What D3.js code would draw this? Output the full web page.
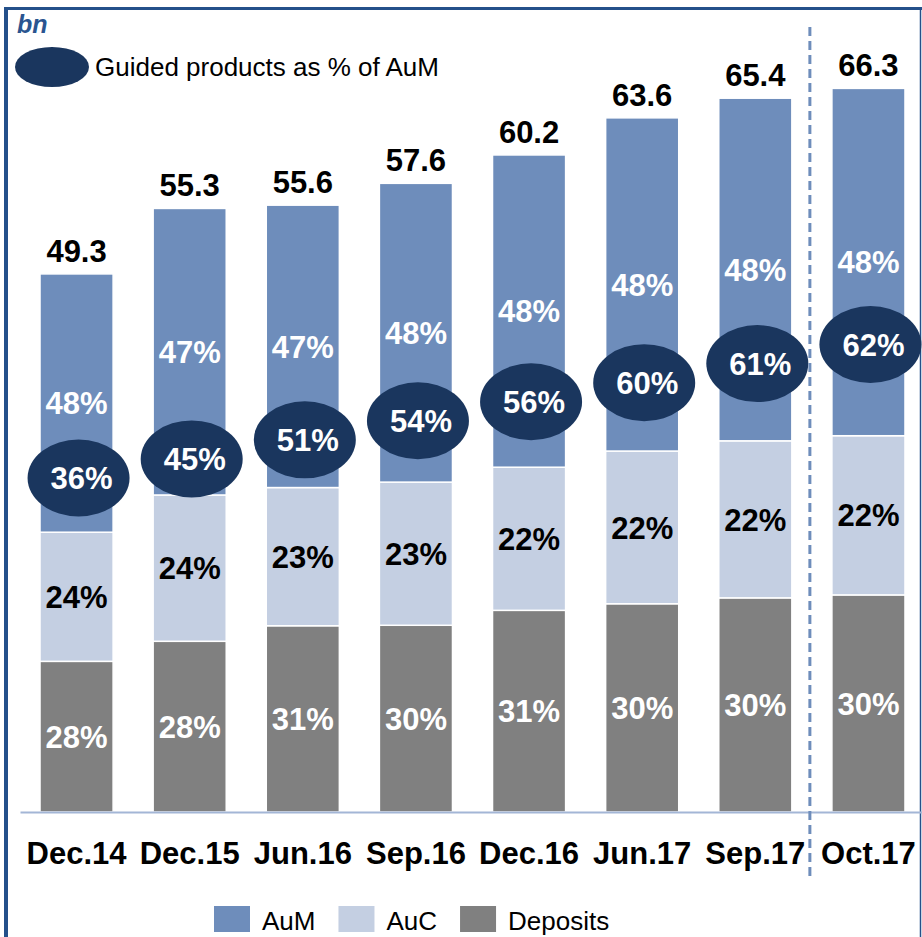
<!DOCTYPE html>
<html>
<head>
<meta charset="utf-8">
<script src="https://cdn.jsdelivr.net/npm/d3@7"></script>
<style>
  body { margin: 0; background: #fff; }
  svg { display: block; font-family: "Liberation Sans", Arial, sans-serif; }
</style>
</head>
<body>
<div id="chart"></div>
<script>
// data
const periods = ["Dec.14", "Dec.15", "Jun.16", "Sep.16", "Dec.16", "Jun.17", "Sep.17", "Oct.17"];
const totals = [49.3, 55.3, 55.6, 57.6, 60.2, 63.6, 65.4, 66.3];
const depositsPct = [28, 28, 31, 30, 31, 30, 30, 30];
const aucPct = [24, 24, 23, 23, 22, 22, 22, 22];
const aumPct = [48, 47, 47, 48, 48, 48, 48, 48];
const guidedPct = [36, 45, 51, 54, 56, 60, 61, 62];
const seriesKeys = ["Deposits", "AuC", "AuM"];

const width = 922, height = 937;
const colors = { AuM: "#6e8dbb", AuC: "#c4cfe2", Deposits: "#808080" };
const labelColors = { AuM: "#fff", AuC: "#000", Deposits: "#fff" };
const navy = "#1a365e";
const frame = "#24508a";

// split each total by its shares (shares don't always add to exactly 100)
const rows = periods.map((p, i) => {
  const sum = depositsPct[i] + aucPct[i] + aumPct[i];
  return {
    period: p,
    total: totals[i],
    guided: guidedPct[i],
    Deposits: totals[i] * depositsPct[i] / sum,
    AuC: totals[i] * aucPct[i] / sum,
    AuM: totals[i] * aumPct[i] / sum,
    pct: { Deposits: depositsPct[i], AuC: aucPct[i], AuM: aumPct[i] }
  };
});

const svg = d3.select("#chart").append("svg")
  .attr("width", width)
  .attr("height", height);

const x = d3.scaleBand()
  .domain(periods)
  .range([20, 925])
  .paddingInner(0.354)
  .paddingOuter(0.177);

const y = d3.scaleLinear()
  .domain([0, 70])
  .range([812, 48]);

const stacked = d3.stack().keys(seriesKeys)(rows);

// frame lines
svg.append("line").attr("x1", 4).attr("x2", width).attr("y1", 8.5).attr("y2", 8.5)
  .attr("stroke", frame).attr("stroke-width", 3);
svg.append("line").attr("x1", 6).attr("x2", 6).attr("y1", 7).attr("y2", height)
  .attr("stroke", frame).attr("stroke-width", 4);
svg.append("line").attr("x1", 920.5).attr("x2", 920.5).attr("y1", 8).attr("y2", height)
  .attr("stroke", frame).attr("stroke-width", 1.5);

// unit
svg.append("text")
  .attr("x", 17).attr("y", 33)
  .attr("font-size", 25).attr("font-weight", "bold").attr("font-style", "italic")
  .attr("fill", "#2a5590")
  .text("bn");

// top legend for the ellipses
svg.append("ellipse")
  .attr("cx", 52).attr("cy", 67).attr("rx", 37).attr("ry", 20)
  .attr("fill", navy);
svg.append("text")
  .attr("x", 95).attr("y", 76)
  .attr("font-size", 26)
  .text("Guided products as % of AuM");

// stacked bars
const layers = svg.append("g").selectAll("g")
  .data(stacked)
  .join("g")
    .attr("fill", d => colors[d.key]);

layers.selectAll("rect")
  .data(d => d)
  .join("rect")
    .attr("x", d => x(d.data.period))
    .attr("width", x.bandwidth())
    .attr("y", d => y(d[1]))
    .attr("height", d => y(d[0]) - y(d[1]))
    .attr("stroke", "#fff")
    .attr("stroke-width", 1.5);

// share labels in the middle of each segment
layers.selectAll("text")
  .data(d => d.map(v => ({ key: d.key, v })))
  .join("text")
    .attr("x", d => x(d.v.data.period) + x.bandwidth() / 2)
    .attr("y", d => y((d.v[0] + d.v[1]) / 2))
    .attr("dy", "0.36em")
    .attr("text-anchor", "middle")
    .attr("font-size", 31)
    .attr("font-weight", "bold")
    .attr("fill", d => labelColors[d.key])
    .text(d => d.v.data.pct[d.key] + "%");

// totals above the bars
svg.append("g").selectAll("text")
  .data(rows)
  .join("text")
    .attr("x", d => x(d.period) + x.bandwidth() / 2)
    .attr("y", d => y(d.total) - 12)
    .attr("text-anchor", "middle")
    .attr("font-size", 31)
    .attr("font-weight", "bold")
    .text(d => d3.format(".1f")(d.total));

// guided products ellipses, stepping up bar by bar
const yGuided = d3.scaleLinear().domain([0, periods.length - 1]).range([478, 344.5]);

const bubbles = svg.append("g").selectAll("g")
  .data(rows)
  .join("g")
    .attr("transform", (d, i) => `translate(${x(d.period) + x.bandwidth() / 2 + 2},${yGuided(i)})`);

bubbles.append("ellipse")
  .attr("rx", 51).attr("ry", 38.5)
  .attr("fill", navy);

bubbles.append("text")
  .attr("x", 3)
  .attr("dy", "0.36em")
  .attr("text-anchor", "middle")
  .attr("font-size", 31)
  .attr("font-weight", "bold")
  .attr("fill", "#fff")
  .text(d => d.guided + "%");

// x axis
const xAxis = svg.append("g")
  .attr("transform", `translate(0,${y(0)})`)
  .call(d3.axisBottom(x).tickSize(0).tickPadding(30));

xAxis.select(".domain")
  .attr("stroke", "#a3b6d6")
  .attr("stroke-width", 2);

xAxis.selectAll("text")
  .attr("font-family", "\"Liberation Sans\", Arial, sans-serif")
  .attr("font-size", 31)
  .attr("font-weight", "bold")
  .attr("fill", "#000");

// dashed separator before the latest month
const sepX = (x("Sep.17") + x.bandwidth() + x("Oct.17")) / 2 - 2;
svg.append("line")
  .attr("x1", sepX).attr("x2", sepX)
  .attr("y1", 27).attr("y2", 880)
  .attr("stroke", "#6e8dbb")
  .attr("stroke-width", 3)
  .attr("stroke-dasharray", "9,5");

// bottom legend
const legendKeys = ["AuM", "AuC", "Deposits"];
const legend = svg.append("g").attr("transform", "translate(214,906)");
let lx = 0;
legendKeys.forEach(k => {
  const item = legend.append("g").attr("transform", `translate(${lx},0)`);
  item.append("rect")
    .attr("width", 36).attr("height", 26)
    .attr("fill", colors[k]);
  const t = item.append("text")
    .attr("x", 48).attr("y", 24)
    .attr("font-size", 26)
    .text(k);
  lx += 48 + t.node().getComputedTextLength() + 23;
});
</script>
</body>
</html>
